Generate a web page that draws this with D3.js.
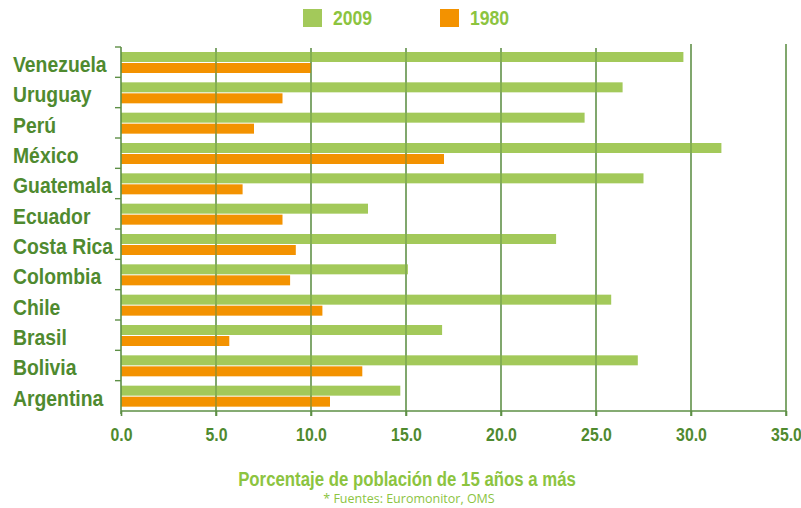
<!DOCTYPE html>
<html><head><meta charset="utf-8">
<script src="https://cdn.jsdelivr.net/npm/d3@7"></script>
<style>body{margin:0;background:#fff}svg{display:block}text{font-family:"Liberation Sans","Arial",sans-serif}</style>
</head><body><svg id="c" width="801" height="508"></svg>
<script>
const countries = ["Venezuela","Uruguay","Perú","México","Guatemala","Ecuador","Costa Rica","Colombia","Chile","Brasil","Bolivia","Argentina"];
const values2009 = [29.6,26.4,24.4,31.6,27.5,13.0,22.9,15.1,25.8,16.9,27.2,14.7];
const values1980 = [10.0,8.5,7.0,17.0,6.4,8.5,9.2,8.9,10.6,5.7,12.7,11.0];
const ticks = [0,5,10,15,20,25,30,35];
const seriesNames = ["2009","1980"];

const green="#a3c95a", orange="#f39200", dark="#4f8a2f", light="#8cc43f", grid="#5d8f45";
const svg=d3.select("#c");
const x=d3.scaleLinear().domain([0,35]).range([121,786]);
const y=d3.scaleBand().domain(countries).range([47,411]);

// gridlines
svg.append("g").selectAll("line").data(ticks.slice(1)).join("line")
  .attr("x1",d=>x(d)).attr("x2",d=>x(d)).attr("y1",d=>d>=30?44:48).attr("y2",416)
  .attr("stroke",grid).attr("stroke-width",1.6).attr("opacity",0.75);

// bars
const g=svg.append("g");
g.selectAll(".b09").data(countries).join("rect")
  .attr("x",x(0)).attr("y",d=>y(d)+5).attr("height",10)
  .attr("width",(d,i)=>x(values2009[i])-x(0)).attr("fill",green);
g.selectAll(".b80").data(countries).join("rect")
  .attr("x",x(0)).attr("y",d=>y(d)+16).attr("height",10)
  .attr("width",(d,i)=>x(values1980[i])-x(0)).attr("fill",orange);

svg.append("g").selectAll("line").data(ticks.slice(1)).join("line")
  .attr("x1",d=>x(d)).attr("x2",d=>x(d)).attr("y1",d=>d>=30?44:48).attr("y2",416)
  .attr("stroke",grid).attr("stroke-width",1.6).attr("opacity",0.55);

function ctext(sel,tx,ty,sx){return sel.attr("transform",`translate(${tx},${ty}) scale(${sx},1)`);}

// bottom axis
const xa=svg.append("g").attr("transform","translate(0,411)")
  .call(d3.axisBottom(x).tickValues(ticks).tickFormat(d3.format(".1f")).tickSize(5));
xa.select(".domain").attr("stroke",grid).attr("stroke-width",1.6).attr("d","M121,0H786");
xa.selectAll(".tick line").attr("stroke",grid).attr("stroke-width",1.6);
xa.selectAll(".tick text").attr("fill",dark).attr("font-size",18).attr("font-weight","bold")
  .attr("y",0).attr("dy",0).attr("transform","translate(0,30) scale(0.88,1)");

// left axis with boundary ticks
svg.append("line").attr("x1",121).attr("x2",121).attr("y1",47).attr("y2",414).attr("stroke",grid).attr("stroke-width",1.6);
svg.append("g").selectAll("line").data(countries).join("line")
  .attr("x1",115).attr("x2",121).attr("y1",d=>y(d)).attr("y2",d=>y(d))
  .attr("stroke",grid).attr("stroke-width",1.4);

// category labels
svg.append("g").selectAll("text").data(countries).join("text")
  .attr("fill",dark).attr("font-size",22).attr("font-weight","bold")
  .attr("transform",d=>`translate(13,${y(d)+25}) scale(0.88,1)`)
  .text(d=>d);

// legend
const lg=svg.append("g");
[[303,333,green],[440,470,orange]].forEach((p,i)=>{
  lg.append("rect").attr("x",p[0]).attr("y",9).attr("width",19).attr("height",18).attr("fill",p[2]);
  ctext(lg.append("text"),p[1],25,0.88).attr("fill",light).attr("font-size",20).attr("font-weight","bold").text(seriesNames[i]);
});

// titles
ctext(svg.append("text"),407,486,0.8).attr("text-anchor","middle").attr("fill",light)
  .attr("font-size",21).attr("font-weight","bold").text("Porcentaje de población de 15 años a más");
svg.append("text").attr("x",409).attr("y",503).attr("text-anchor","middle").attr("fill",light)
  .attr("font-size",12.5).style("font-family","'Open Sans',sans-serif").text("* Fuentes: Euromonitor, OMS");
</script></body></html>
